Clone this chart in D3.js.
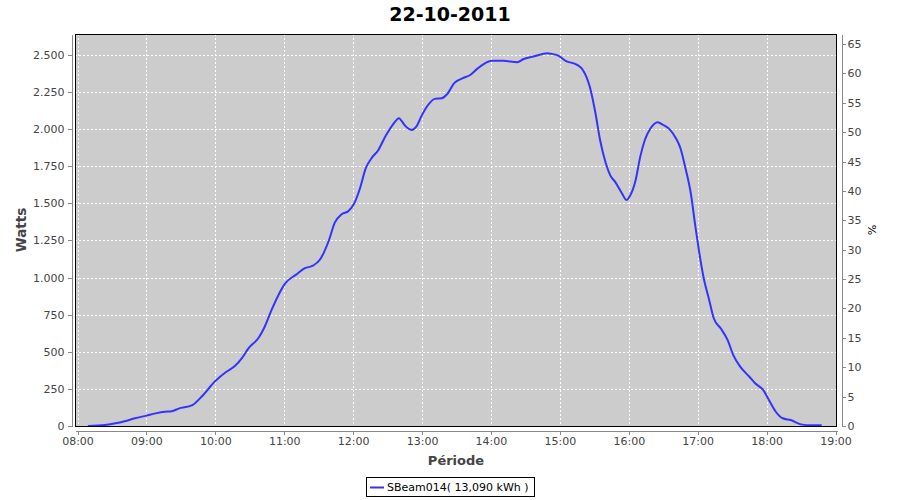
<!DOCTYPE html>
<html>
<head>
<meta charset="utf-8">
<script src="https://cdn.jsdelivr.net/npm/d3@7"></script>
<style>
  html, body { margin: 0; padding: 0; background: #ffffff; }
  svg { display: block; font-family: "DejaVu Sans", sans-serif; }
</style>
</head>
<body>
<svg id="chart" width="900" height="500"></svg>
<script>
// ---- data ----
const chartTitle = "22-10-2011";
const seriesName = "SBeam014( 13,090 kWh )";
const times = [
  "08:09","08:24","08:33","08:41","08:50","09:00","09:08","09:16","09:22","09:28",
  "09:40","09:48","10:00","10:09","10:17","10:23","10:29","10:38","10:43","10:49",
  "10:55","11:01","11:10","11:18","11:25","11:31","11:39","11:44","11:50","11:56",
  "12:01","12:06","12:11","12:16","12:22","12:28","12:34","12:40","12:42","12:46",
  "12:51","12:55","13:00","13:06","13:11","13:17","13:22","13:28","13:35","13:42",
  "13:48","13:54","14:01","14:11","14:23","14:28","14:37","14:49","14:53","14:59",
  "15:05","15:15","15:20","15:26","15:31","15:35","15:40","15:44","15:48","15:54",
  "15:58","16:01","16:06","16:10","16:14","16:19","16:25","16:30","16:36","16:41",
  "16:45","16:49","16:54","16:58","17:01","17:05","17:10","17:14","17:20","17:26",
  "17:31","17:37","17:45","17:50","17:57","18:02","18:08","18:14","18:21","18:30",
  "18:38","18:48"
];
const watts = [
  0,7,18,32,52,70,85,96,99,117,
  141,197,303,362,404,456,524,598,669,782,
  883,962,1018,1063,1080,1120,1253,1370,1427,1449,
  1501,1602,1737,1804,1860,1950,2024,2074,2057,2017,
  1995,2017,2096,2170,2204,2208,2237,2310,2342,2365,
  2406,2440,2460,2460,2451,2471,2489,2512,2507,2494,
  2460,2433,2399,2287,2107,1927,1770,1687,1646,1568,
  1523,1550,1658,1815,1927,2006,2047,2028,1995,1939,
  1871,1748,1568,1343,1186,1006,849,726,658,580,
  478,400,332,288,243,175,96,52,40,11,
  5,5
];
const xTickLabels = ["08:00","09:00","10:00","11:00","12:00","13:00","14:00","15:00","16:00","17:00","18:00","19:00"];
const yLeftTicks = [0,250,500,750,1000,1250,1500,1750,2000,2250,2500];
const yRightTicks = [0,5,10,15,20,25,30,35,40,45,50,55,60,65];
const xDomainLabels = ["07:57:49","19:01:18"];
const yLeftMax = 2641;
const yRightMax = 66.7;
const axisLabels = { x: "Période", yLeft: "Watts", yRight: "%" };

// ---- layout ----
const plot = { left: 75, right: 837, top: 34, bottom: 426 };
const svg = d3.select("#chart");
const parseT = d3.timeParse("%H:%M");
const parseTS = d3.timeParse("%H:%M:%S");
const points = times.map((t, i) => ({ t: parseT(t), v: watts[i] }));

const x = d3.scaleTime()
  .domain(xDomainLabels.map(parseTS))
  .range([plot.left, plot.right]);
const y = d3.scaleLinear().domain([0, yLeftMax]).range([plot.bottom, plot.top]);
const y2 = d3.scaleLinear().domain([0, yRightMax]).range([plot.bottom, plot.top]);
const xTicks = xTickLabels.map(parseT);

const textCol = "#444444";
const axisCol = "#888888";

// title
svg.append("text")
  .attr("x", 450).attr("y", 21)
  .attr("text-anchor", "middle")
  .attr("font-size", 19).attr("font-weight", "bold")
  .attr("fill", "#000")
  .text(chartTitle);

// plot background
svg.append("rect")
  .attr("x", plot.left).attr("y", plot.top)
  .attr("width", plot.right - plot.left).attr("height", plot.bottom - plot.top + 1)
  .attr("fill", "#cccccc");

// gridlines
const grid = svg.append("g").attr("stroke", "#ffffff").attr("stroke-width", 1)
  .attr("stroke-dasharray", "2,2").attr("shape-rendering", "crispEdges");
grid.selectAll("line.v").data(xTicks).enter().append("line")
  .attr("x1", d => Math.round(x(d)) + 0.5).attr("x2", d => Math.round(x(d)) + 0.5)
  .attr("y1", plot.top).attr("y2", plot.bottom);
grid.selectAll("line.h").data(yLeftTicks.filter(d => d > 0)).enter().append("line")
  .attr("y1", d => Math.round(y(d)) + 0.5).attr("y2", d => Math.round(y(d)) + 0.5)
  .attr("x1", plot.left).attr("x2", plot.right);

// series line
const line = d3.line().x(d => x(d.t)).y(d => y(d.v)).curve(d3.curveMonotoneX);
svg.append("path")
  .datum(points)
  .attr("fill", "none")
  .attr("stroke", "#3333ff")
  .attr("stroke-width", 2)
  .attr("stroke-linejoin", "round")
  .attr("d", line);

// plot border
svg.append("rect")
  .attr("x", plot.left + 0.5).attr("y", plot.top + 0.5)
  .attr("width", plot.right - plot.left - 1).attr("height", plot.bottom - plot.top)
  .attr("fill", "none").attr("stroke", "#000").attr("stroke-width", 1)
  .attr("shape-rendering", "crispEdges");

function styleAxis(g) {
  g.select(".domain").attr("stroke", axisCol).attr("shape-rendering", "crispEdges");
  g.selectAll(".tick line").attr("stroke", axisCol).attr("shape-rendering", "crispEdges");
  g.selectAll(".tick text").attr("fill", textCol).attr("font-size", 11)
    .attr("font-family", "DejaVu Sans, sans-serif");
}

// bottom axis
const xAxis = d3.axisBottom(x).tickValues(xTicks).tickFormat(d3.timeFormat("%H:%M"))
  .tickSizeOuter(0).tickSizeInner(4).tickPadding(3);
svg.append("g").attr("transform", `translate(0,${plot.bottom + 4.5})`)
  .call(xAxis).call(styleAxis);

// left axis
const fmtLeft = d => d3.format(",")(d).replace(/,/g, ".");
const yAxis = d3.axisLeft(y).tickValues(yLeftTicks).tickFormat(fmtLeft)
  .tickSizeOuter(0).tickSizeInner(4).tickPadding(3);
svg.append("g").attr("transform", `translate(${plot.left - 3.5},0)`)
  .call(yAxis).call(styleAxis);

// right axis
const y2Axis = d3.axisRight(y2).tickValues(yRightTicks).tickFormat(d3.format("d"))
  .tickSizeOuter(0).tickSizeInner(4).tickPadding(2);
svg.append("g").attr("transform", `translate(${plot.right + 4.5},0)`)
  .call(y2Axis).call(styleAxis);

// axis labels
const midY = (plot.top + plot.bottom) / 2;
svg.append("text")
  .attr("transform", `translate(26,${midY}) rotate(-90)`)
  .attr("text-anchor", "middle")
  .attr("font-size", 13.5).attr("font-weight", "bold").attr("fill", textCol)
  .text(axisLabels.yLeft);
svg.append("text")
  .attr("x", (plot.left + plot.right) / 2).attr("y", 465)
  .attr("text-anchor", "middle")
  .attr("font-size", 13).attr("font-weight", "bold").attr("fill", textCol)
  .text(axisLabels.x);
svg.append("text")
  .attr("transform", `translate(868,${midY}) rotate(90)`)
  .attr("text-anchor", "middle")
  .attr("font-size", 11).attr("fill", "#000")
  .text(axisLabels.yRight);

// legend
const leg = svg.append("g");
const legText = leg.append("text")
  .attr("y", 491)
  .attr("font-size", 11).attr("fill", "#000")
  .text(seriesName);
const tw = legText.node().getComputedTextLength();
const legW = 4 + 14 + 3 + tw + 5;
const legX = Math.round(450 - legW / 2);
legText.attr("x", legX + 21);
leg.append("line")
  .attr("x1", legX + 4).attr("x2", legX + 18)
  .attr("y1", 487.5).attr("y2", 487.5)
  .attr("stroke", "#3333ff").attr("stroke-width", 2);
leg.append("rect")
  .attr("x", legX + 0.5).attr("y", 477.5)
  .attr("width", Math.round(legW)).attr("height", 19)
  .attr("fill", "none").attr("stroke", "#000").attr("stroke-width", 1)
  .attr("shape-rendering", "crispEdges");
</script>
</body>
</html>
